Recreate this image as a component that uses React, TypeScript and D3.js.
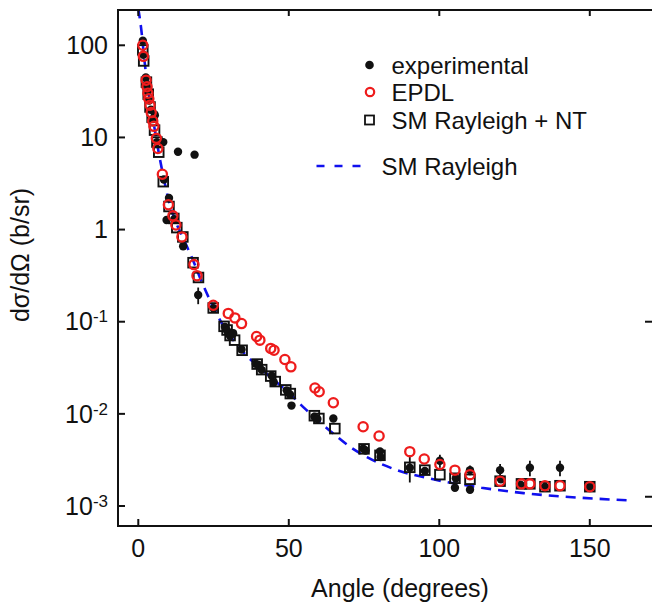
import React from "react";
import * as d3 from "d3";

// SM Rayleigh (dashed curve)
const smAngles = [0, 1, 2, 3, 4, 5, 6, 8, 10, 12, 15, 18, 21, 24, 28, 32, 36, 40, 45, 50, 55, 60, 65, 70, 76, 86, 98, 114, 128, 142, 163];
const smValues = [251, 148, 70.8, 38, 24, 15.1, 9.55, 4.27, 2.14, 1.32, 0.794, 0.479, 0.275, 0.166, 0.0933, 0.0603, 0.0427, 0.0324, 0.0234, 0.017, 0.0117, 0.00832, 0.00603, 0.00447, 0.00339, 0.00245, 0.00195, 0.00158, 0.00138, 0.00126, 0.00115];

// EPDL (red open circles)
const epdlAngles = [1.5, 1.7, 2.6, 2.9, 3.2, 3.5, 3.9, 4.3, 4.8, 5.2, 6.0, 6.5, 8.0, 10.0, 11.5, 12.5, 14.5, 18.5, 19.5, 24.9, 29.9, 32.1, 34.3, 39.3, 40.4, 44.0, 45.1, 48.7, 50.7, 58.7, 60.1, 64.8, 74.7, 80.0, 90.2, 95.0, 100.2, 105.2, 110.2, 120.2, 127.3, 130.1, 135.1, 140.1, 150.0];
const epdlValues = [100, 75.9, 41.7, 35.5, 30.2, 26.3, 22.4, 18.6, 15.1, 13.2, 9.77, 7.59, 3.98, 1.86, 1.41, 1.12, 0.832, 0.417, 0.316, 0.151, 0.123, 0.11, 0.0955, 0.0692, 0.0631, 0.0513, 0.049, 0.0389, 0.0324, 0.0191, 0.0174, 0.0132, 0.00724, 0.00575, 0.00389, 0.00324, 0.00282, 0.00245, 0.00219, 0.00186, 0.00174, 0.00174, 0.00166, 0.00166, 0.00162];

// SM Rayleigh + NT (open squares)
const smntAngles = [1.5, 1.8, 2.7, 3.3, 3.9, 4.6, 5.4, 6.2, 6.8, 8.3, 10.2, 11.8, 12.8, 14.8, 18.2, 20.0, 24.9, 28.5, 29.5, 30.5, 32.0, 34.5, 39.5, 41.0, 44.0, 45.5, 49.0, 50.5, 58.5, 60.0, 65.3, 75.0, 80.3, 90.2, 95.2, 100.2, 105.2, 110.2, 120.2, 127.3, 130.1, 135.1, 140.1, 150.0];
const smntValues = [89.1, 67.6, 39.8, 29.5, 21.4, 16.6, 12.0, 8.91, 6.92, 3.31, 1.78, 1.32, 1.05, 0.832, 0.437, 0.302, 0.141, 0.0891, 0.0813, 0.0708, 0.0631, 0.049, 0.0347, 0.0302, 0.0257, 0.0224, 0.0182, 0.0166, 0.00955, 0.00891, 0.00692, 0.00417, 0.00355, 0.00263, 0.00245, 0.00219, 0.002, 0.00195, 0.00186, 0.00174, 0.00174, 0.00162, 0.00166, 0.00162];

// experimental (black dots, with uncertainty)
const expAngles = [1.5, 1.7, 2.5, 2.8, 3.1, 3.6, 4.2, 4.8, 5.5, 6.2, 8.3, 8.5, 9.4, 10.2, 12.0, 13.2, 14.9, 18.7, 19.9, 25.0, 28.8, 29.5, 30.5, 31.5, 34.3, 39.0, 40.0, 41.0, 44.3, 45.0, 49.3, 50.4, 50.9, 58.5, 59.5, 64.8, 74.7, 75.5, 80.3, 80.5, 90.2, 95.2, 100.2, 105.2, 105.5, 110.2, 110.2, 120.2, 120.5, 127.0, 130.1, 135.1, 140.1, 150.0];
const expValues = [112, 79, 44.7, 38, 31.6, 25.1, 20, 15.8, 17.4, 8.9, 8.9, 3.5, 1.27, 2.2, 1.3, 7.0, 0.66, 6.5, 0.195, 0.14, 0.088, 0.08, 0.07, 0.075, 0.05, 0.035, 0.034, 0.03, 0.026, 0.022, 0.018, 0.0162, 0.0123, 0.0093, 0.0088, 0.0089, 0.0042, 0.004, 0.0039, 0.0034, 0.0026, 0.0024, 0.0031, 0.00158, 0.002, 0.00245, 0.0015, 0.00245, 0.00195, 0.0017, 0.0026, 0.00162, 0.0026, 0.00162];
const expErrors = [0, 0, 0, 0, 0, 0, 0, 0, 0, 0, 0, 0, 0, 0, 0, 0, 0, 0, 0.04, 0, 0, 0, 0, 0, 0, 0, 0, 0, 0, 0, 0, 0, 0, 0, 0, 0, 0, 0, 0, 0, 0.0008, 0, 0.0005, 0, 0, 0.0003, 0, 0.0004, 0, 0, 0.0005, 0, 0.0005, 0];

const xTicks = [0, 50, 100, 150];
const yTicks = [100, 10, 1, 0.1, 0.01, 0.001];
const yTickLabels: [string, string][] = [["100", ""], ["10", ""], ["1", ""], ["10", "-1"], ["10", "-2"], ["10", "-3"]];
const rightTicks = [0.1, 0.00126];

const legendLabels = ["experimental", "EPDL", "SM Rayleigh + NT", "SM Rayleigh"];

const FONT = "'Liberation Sans', Arial, sans-serif";

export default function App() {
  const left = 118, right = 653, top = 10, bottom = 526;
  const x = d3.scaleLinear().domain([-6.74, 171]).range([left, right]);
  const y = d3.scaleLog().domain([Math.pow(10, -3.217), Math.pow(10, 2.383)]).range([bottom, top]);

  const line = d3
    .line<number>()
    .x((_, i) => x(smAngles[i]))
    .y((d) => y(d))
    .curve(d3.curveMonotoneX);

  const blue = "#1010ee";
  const red = "#ee1c1c";

  return (
    <svg width={652} height={603} style={{ position: "absolute", left: 0, top: 0, background: "#fff" }} fontFamily={FONT}>
      <defs>
        <clipPath id="plot">
          <rect x={left} y={top} width={right - left} height={bottom - top} />
        </clipPath>
      </defs>
      <rect x={0} y={0} width={652} height={603} fill="#fff" />

      <g clipPath="url(#plot)">
        <path d={line(smValues) || ""} fill="none" stroke={blue} strokeWidth={2.6} strokeDasharray="10,7" />
        {smntAngles.map((a, i) => (
          <rect key={"s" + i} x={x(a) - 4.8} y={y(smntValues[i]) - 4.8} width={9.6} height={9.6} fill="none" stroke="#111" strokeWidth={1.9} />
        ))}
        {expAngles.map((a, i) =>
          expErrors[i] > 0 ? (
            <line key={"e" + i} x1={x(a)} x2={x(a)} y1={y(expValues[i] + expErrors[i])} y2={y(Math.max(expValues[i] - expErrors[i], 1e-4))} stroke="#111" strokeWidth={1.8} />
          ) : null
        )}
        {expAngles.map((a, i) => (
          <circle key={"d" + i} cx={x(a)} cy={y(expValues[i])} r={4.2} fill="#111" />
        ))}
        {epdlAngles.map((a, i) => (
          <circle key={"c" + i} cx={x(a)} cy={y(epdlValues[i])} r={4.6} fill="none" stroke={red} strokeWidth={2.3} />
        ))}
      </g>

      {/* frame */}
      <line x1={left} x2={left} y1={top} y2={bottom} stroke="#111" strokeWidth={2} />
      <line x1={left - 1} x2={right} y1={bottom} y2={bottom} stroke="#111" strokeWidth={2} />
      <line x1={left - 1} x2={right} y1={top} y2={top} stroke="#111" strokeWidth={2} />

      {/* x ticks */}
      {xTicks.map((t) => (
        <g key={"xt" + t}>
          <line x1={x(t)} x2={x(t)} y1={bottom} y2={bottom - 7} stroke="#111" strokeWidth={2} />
          <line x1={x(t)} x2={x(t)} y1={top} y2={top + 6} stroke="#111" strokeWidth={2} />
          <text x={x(t)} y={557} textAnchor="middle" fontSize={25} fill="#111">
            {t}
          </text>
        </g>
      ))}

      {/* y ticks */}
      {yTicks.map((t, i) => (
        <g key={"yt" + i}>
          <line x1={left} x2={left + 7} y1={y(t)} y2={y(t)} stroke="#111" strokeWidth={2} />
          <text x={108} y={y(t) + 8.7} textAnchor="end" fontSize={25} fill="#111">
            {yTickLabels[i][0]}
            {yTickLabels[i][1] ? (
              <tspan fontSize={17} dy={-8}>
                {yTickLabels[i][1]}
              </tspan>
            ) : null}
          </text>
        </g>
      ))}
      {rightTicks.map((t, i) => (
        <line key={"rt" + i} x1={652} x2={645} y1={y(t)} y2={y(t)} stroke="#111" strokeWidth={2} />
      ))}

      {/* axis titles */}
      <text x={400} y={597} textAnchor="middle" fontSize={25} fill="#111">
        Angle (degrees)
      </text>
      <text transform="translate(29,255) rotate(-90)" textAnchor="middle" fontSize={25} fill="#111">
        dσ/dΩ (b/sr)
      </text>

      {/* legend */}
      <circle cx={369.5} cy={65} r={4.3} fill="#111" />
      <text x={391.5} y={73.5} fontSize={24} fill="#111">{legendLabels[0]}</text>
      <circle cx={370} cy={92} r={4.2} fill="none" stroke={red} strokeWidth={2.2} />
      <text x={391.5} y={100.5} fontSize={24} fill="#111">{legendLabels[1]}</text>
      <rect x={365} y={115.5} width={9} height={9} fill="none" stroke="#111" strokeWidth={1.8} />
      <text x={391.5} y={128.5} fontSize={24} fill="#111">{legendLabels[2]}</text>
      <line x1={316.5} x2={362} y1={166} y2={166} stroke={blue} strokeWidth={2.6} strokeDasharray="8,10" />
      <text x={381.5} y={174.5} fontSize={24} fill="#111">{legendLabels[3]}</text>
    </svg>
  );
}
